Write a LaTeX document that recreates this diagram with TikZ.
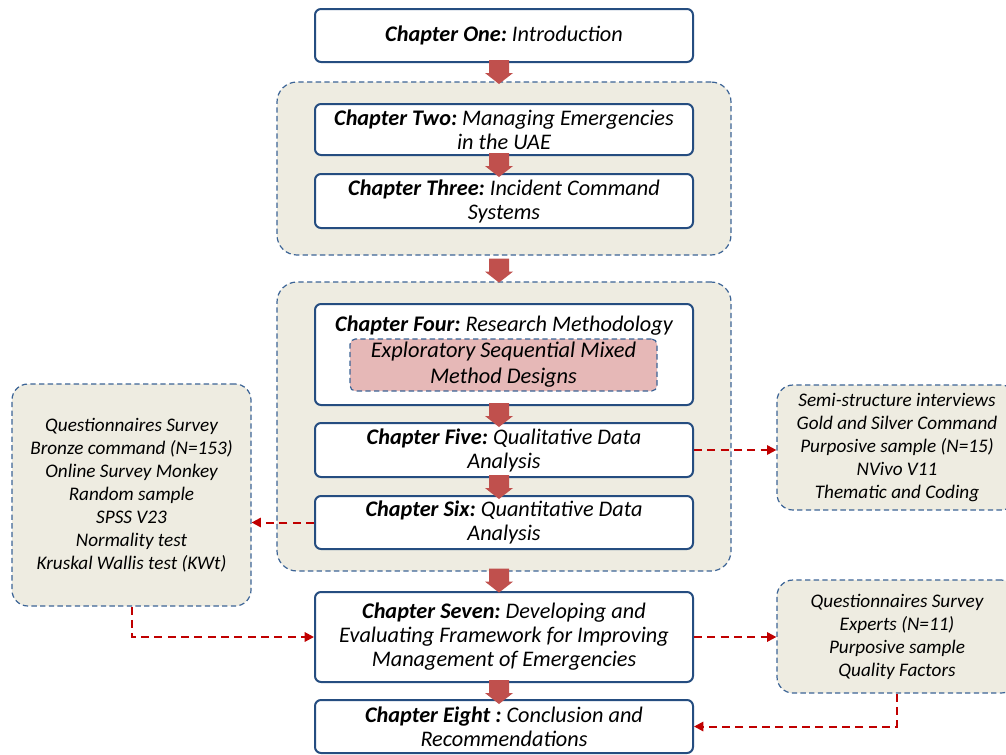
\documentclass[tikz,border=0pt]{standalone}
\usepackage{fontspec}
\setmainfont{Carlito}
\usetikzlibrary{arrows.meta,calc}
\definecolor{boxblue}{RGB}{37,77,128}
\definecolor{dashblue}{RGB}{60,100,150}
\definecolor{panel}{RGB}{238,236,225}
\definecolor{pinkfill}{RGB}{230,184,183}
\definecolor{fatred}{RGB}{192,80,77}
\definecolor{linkred}{RGB}{192,0,0}
\newcommand\chap[2]{{\bfseries #1}~#2}
\begin{document}
\begin{tikzpicture}[x=0.75pt,y=-0.75pt,
  every node/.style={font=\fontsize{16.7}{18}\selectfont\itshape, align=center, inner sep=0pt},
  chapbox/.style={draw=boxblue, line width=1.5pt, fill=white, rounded corners=4.5pt, minimum width=283.5pt},
  group/.style={draw=dashblue, line width=0.9pt, dash pattern=on 4pt off 2.5pt, fill=panel, rounded corners=15pt, minimum width=340.5pt},
  sidebox/.style={draw=dashblue, line width=0.9pt, dash pattern=on 4pt off 2.5pt, fill=panel, rounded corners=12pt, font=\fontsize{14.4}{17.25}\selectfont\itshape},
  pinkbox/.style={draw=dashblue, line width=0.9pt, dash pattern=on 4pt off 2.5pt, fill=pinkfill, rounded corners=4pt, font=\fontsize{16.8}{18}\selectfont\itshape},
  link/.style={draw=linkred, line width=1.5pt, dash pattern=on 6pt off 4pt, -{Triangle[length=7pt,width=7pt]}},
  fat/.pic={\fill[fatred] (-10,-3) -- (10,-3) -- (10,10) -- (14,10) -- (0,21) -- (-14,10) -- (-10,10) -- cycle;}
]
\useasboundingbox (0,0) rectangle (1006,754);
\fill[white] (0,0) rectangle (1006,754);
\clip (0,0) rectangle (1006,754);

% grouped chapters
\node[group, minimum height=129.75pt] (g1) at (504,168.5) {};
\node[group, minimum height=216.75pt] (g2) at (504,426.5) {};

% chapter boxes
\node[chapbox, minimum height=39.75pt] (c1) at (504,35.5) {\chap{Chapter One:}{Introduction}};
\node[chapbox, minimum height=38.25pt] (c2) at (504,129.5) {\chap{Chapter Two:}{Managing Emergencies}\\in the UAE};
\node[chapbox, minimum height=40.5pt] (c3) at (504,201) {\chap{Chapter Three:}{Incident Command}\\Systems};
\node[chapbox, minimum height=75.75pt] (c4) at (504,354.5) {};
\node (c4t) at (504,325.5) {\chap{Chapter Four:}{Research Methodology}};
\node[pinkbox, minimum width=230.25pt, minimum height=39pt] (mm) at (503.5,365) {Exploratory Sequential Mixed\\[1.5pt]Method Designs};
\node[chapbox, minimum height=40.5pt] (c5) at (504,450) {\chap{Chapter Five:}{Qualitative Data}\\Analysis};
\node[chapbox, minimum height=39.75pt] (c6) at (504,522.5) {\chap{Chapter Six:}{Quantitative Data}\\Analysis};
\node[chapbox, minimum height=67.5pt] (c7) at (504,637) {\chap{Chapter Seven:}{Developing and}\\Evaluating Framework for Improving\\Management of Emergencies};
\node[chapbox, minimum height=39.75pt] (c8) at (504,726.5) {\chap{Chapter Eight :}{Conclusion and}\\Recommendations};

% method boxes
\node[sidebox, minimum width=179.25pt, minimum height=166.5pt] (left) at (131.5,495) {Questionnaires Survey\\Bronze command (N=153)\\Online Survey Monkey\\Random sample\\SPSS V23\\Normality test\\Kruskal Wallis test (KWt)};
\node[sidebox, minimum width=180pt, minimum height=93.75pt] (rt) at (897,447.5) {Semi-structure interviews\\Gold and Silver Command\\Purposive sample (N=15)\\NVivo V11\\Thematic and Coding};
\node[sidebox, minimum width=180pt, minimum height=84.75pt] (rb) at (897,636.5) {Questionnaires Survey\\Experts (N=11)\\Purposive sample\\Quality Factors};

% flow arrows
\pic at ($(c1.south)+(-5,0)$) {fat};
\pic at ($(c2.south)+(-5,0)$) {fat};
\pic at ($(g1.south)+(-5,6)$) {fat};
\pic at ($(c4.south)+(-5,0)$) {fat};
\pic at ($(c5.south)+(-5,0)$) {fat};
\pic at ($(g2.south)+(-5,0)$) {fat};
\pic at ($(c7.south)+(-5,0)$) {fat};

% method links
\draw[link] (c5.east) -- (c5.east -| rt.west);
\draw[link] (c6.west) -- (c6.west -| left.east);
\draw[link] (left.south) |- (c7.west);
\draw[link] (c7.east) -- (c7.east -| rb.west);
\draw[link] (rb.south) |- (c8.east);
\end{tikzpicture}
\end{document}
